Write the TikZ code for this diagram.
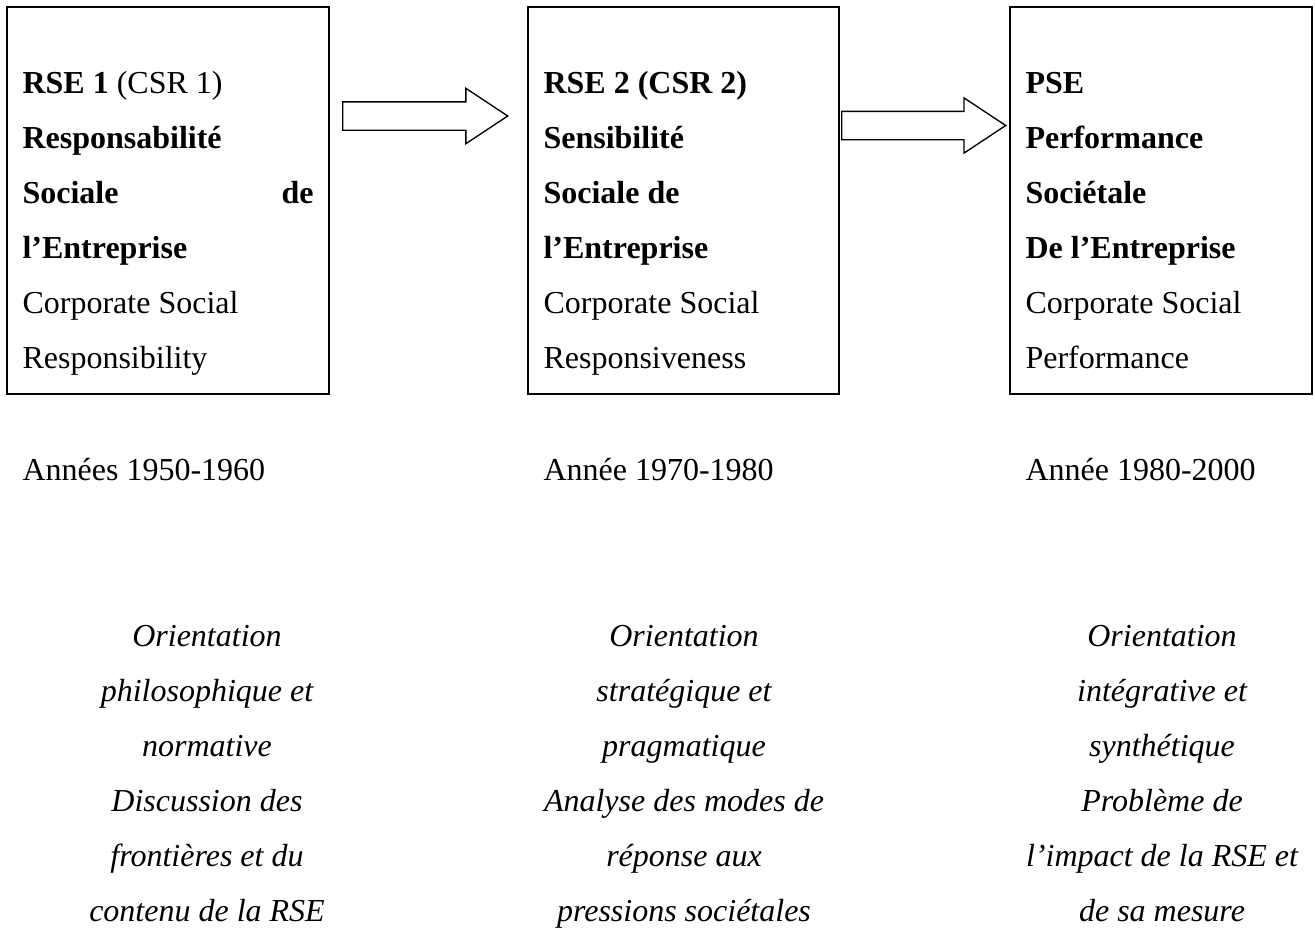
\documentclass[tikz,border=0pt]{standalone}
\usepackage{fontspec}
\setmainfont{Liberation Serif}
\usetikzlibrary{shapes.arrows}
\begin{document}
\begin{tikzpicture}[x=0.375pt,y=-0.375pt,
  box/.style={draw, line width=0.75pt, rectangle, minimum height=145.125pt, inner sep=0pt},
  boxtext/.style={anchor=north west, inner sep=0pt, align=left,
    font=\fontsize{12pt}{20.625pt}\selectfont},
  yeartext/.style={anchor=base west, inner sep=0pt,
    font=\fontsize{12pt}{20.625pt}\selectfont},
  notetext/.style={anchor=north, inner sep=0pt, align=center,
    font=\fontsize{12pt}{20.625pt}\selectfont\itshape},
  blockarrow/.style={draw, line width=0.5pt, single arrow,
    single arrow head extend=5.0625pt, single arrow tip angle=67,
    minimum width=20.25pt, inner xsep=0pt, inner ysep=5.0625pt}
]
\useasboundingbox (0,0) rectangle (1315,928);

% the three framed boxes
\node[box, minimum width=120.75pt]  (b1) at (168,200.5) {};
\node[box, minimum width=116.625pt] (b2) at (683.5,200.5) {};
\node[box, minimum width=113.25pt]  (b3) at (1161,200.5) {};

% block arrows between the boxes
\node[blockarrow, minimum height=61.875pt] (a1) at (414.5,116) {};
\node[blockarrow, minimum height=61.5pt]   (a2) at (913,125.5) {};

% box contents
\node[boxtext] (t1) at (22,54.5) {\strut\textbf{RSE 1} (CSR 1)\\
  \textbf{Responsabilité}\\
  \hbox to 109.125pt{\textbf{Sociale}\hfill\textbf{de}}\\
  \textbf{l’Entreprise}\\
  Corporate Social\\
  Responsibility};
\node[boxtext] (t2) at (543,54.5) {\strut\textbf{RSE 2 (CSR 2)}\\
  \textbf{Sensibilité}\\
  \textbf{Sociale de}\\
  \textbf{l’Entreprise}\\
  Corporate Social\\
  Responsiveness};
\node[boxtext] (t3) at (1025,54.5) {\strut\textbf{PSE}\\
  \textbf{Performance}\\
  \textbf{Sociétale}\\
  \textbf{De l’Entreprise}\\
  Corporate Social\\
  Performance};

% periods
\node[yeartext] (y1) at (22,480)   {Années 1950-1960};
\node[yeartext] (y2) at (543,480)  {Année 1970-1980};
\node[yeartext] (y3) at (1025,480) {Année 1980-2000};

% orientations
\node[notetext] (n1) at (207,607.5) {\strut Orientation\\
  philosophique et\\
  normative\\
  Discussion des\\
  frontières et du\\
  contenu de la RSE};
\node[notetext] (n2) at (684,607.5) {\strut Orientation\\
  stratégique et\\
  pragmatique\\
  Analyse des modes de\\
  réponse aux\\
  pressions sociétales};
\node[notetext] (n3) at (1162,607.5) {\strut Orientation\\
  intégrative et\\
  synthétique\\
  Problème de\\
  l’impact de la RSE et\\
  de sa mesure};
\end{tikzpicture}
\end{document}
